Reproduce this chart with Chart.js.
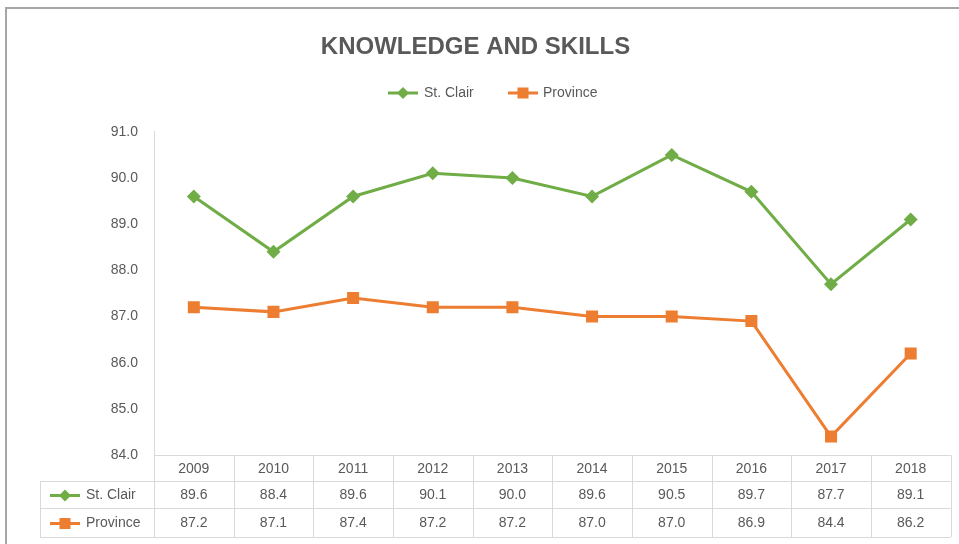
<!DOCTYPE html>
<html>
<head>
<meta charset="utf-8">
<script src="https://cdn.jsdelivr.net/npm/chart.js@4/dist/chart.umd.min.js"></script>
<style>
  html, body { margin: 0; padding: 0; background: #fff; }
  #frame { position: absolute; left: 5px; top: 7px; width: 1000px; height: 600px; border: 2px solid #a6a6a6; }
  #wrap { position: absolute; left: 0; top: 0; width: 959px; height: 544px; }
</style>
</head>
<body>
<div id="frame"></div>
<div id="wrap"><canvas id="chart" width="959" height="544"></canvas></div>
<script>
const years = ['2009', '2010', '2011', '2012', '2013', '2014', '2015', '2016', '2017', '2018'];
const stClair = [89.6, 88.4, 89.6, 90.1, 90.0, 89.6, 90.5, 89.7, 87.7, 89.1];
const province = [87.2, 87.1, 87.4, 87.2, 87.2, 87.0, 87.0, 86.9, 84.4, 86.2];
const yMin = 84, yMax = 91;

const GREEN = '#70ad47';
const ORANGE = '#ed7d31';
const TEXT = '#595959';
const LINE = '#d9d9d9';
const FONT = '"Liberation Sans", Arial, sans-serif';

function marker(ctx, style, x, y, color) {
    ctx.fillStyle = color;
    ctx.beginPath();
    if (style === 'diamond') {
        ctx.moveTo(x, y - 6); ctx.lineTo(x + 6, y); ctx.lineTo(x, y + 6); ctx.lineTo(x - 6, y);
        ctx.closePath();
    } else {
        ctx.rect(x - 5.5, y - 5.5, 11, 11);
    }
    ctx.fill();
}

function key(ctx, style, x, y, color) {
    ctx.strokeStyle = color;
    ctx.lineWidth = 3;
    ctx.beginPath();
    ctx.moveTo(x, y); ctx.lineTo(x + 30, y);
    ctx.stroke();
    marker(ctx, style, x + 15, y, color);
}

// legend on top + data table under the plot
const tablePlugin = {
    id: 'dataTable',
    afterDraw(chart) {
        const ctx = chart.ctx;
        const xs = chart.scales.x;
        const area = chart.chartArea;
        const series = [
            { name: 'St. Clair', values: stClair, color: GREEN, style: 'diamond' },
            { name: 'Province', values: province, color: ORANGE, style: 'square' }
        ];
        ctx.save();

        // legend
        ctx.font = '14px ' + FONT;
        ctx.textBaseline = 'middle';
        ctx.textAlign = 'left';
        key(ctx, 'diamond', 388, 93, GREEN);
        ctx.fillStyle = TEXT;
        ctx.fillText('St. Clair', 424, 93);
        key(ctx, 'square', 508, 93, ORANGE);
        ctx.fillStyle = TEXT;
        ctx.fillText('Province', 543, 93);

        // table grid
        const half = xs.width / years.length / 2;
        const top = area.bottom;
        const rows = [top, top + 26, top + 53, top + 82];
        const left = 40;
        ctx.strokeStyle = LINE;
        ctx.lineWidth = 1;
        ctx.beginPath();
        ctx.moveTo(area.left, rows[0] + 0.5); ctx.lineTo(area.right, rows[0] + 0.5);
        for (let r = 1; r < rows.length; r++) {
            ctx.moveTo(left, rows[r] + 0.5); ctx.lineTo(area.right, rows[r] + 0.5);
        }
        ctx.moveTo(left + 0.5, rows[1]); ctx.lineTo(left + 0.5, rows[3]);
        for (let i = 0; i <= years.length; i++) {
            const x = Math.round(xs.getPixelForValue(0) - half + i * half * 2) + 0.5;
            ctx.moveTo(x, rows[0]); ctx.lineTo(x, rows[3]);
        }
        ctx.stroke();

        // table text
        ctx.font = '14px ' + FONT;
        ctx.fillStyle = TEXT;
        ctx.textAlign = 'center';
        years.forEach((y, i) => {
            ctx.fillText(y, xs.getPixelForValue(i), (rows[0] + rows[1]) / 2 + 1);
        });
        series.forEach((s, r) => {
            const cy = (rows[r + 1] + rows[r + 2]) / 2 + 1;
            key(ctx, s.style, 50, cy, s.color);
            ctx.fillStyle = TEXT;
            ctx.textAlign = 'left';
            ctx.fillText(s.name, 86, cy);
            ctx.textAlign = 'center';
            s.values.forEach((v, i) => {
                ctx.fillText(v.toFixed(1), xs.getPixelForValue(i), cy);
            });
        });
        ctx.restore();
    }
};

new Chart(document.getElementById('chart'), {
    type: 'line',
    data: {
        labels: years,
        datasets: [
            {
                label: 'St. Clair',
                data: stClair,
                borderColor: GREEN,
                backgroundColor: GREEN,
                borderWidth: 3,
                pointStyle: 'rectRot',
                pointRadius: 7,
                pointBorderWidth: 0,
                tension: 0
            },
            {
                label: 'Province',
                data: province,
                borderColor: ORANGE,
                backgroundColor: ORANGE,
                borderWidth: 3,
                pointStyle: 'rect',
                pointRadius: 8.5,
                pointBorderWidth: 0,
                tension: 0
            }
        ]
    },
    options: {
        responsive: false,
        animation: false,
        layout: { padding: { left: 0, right: 8, top: 0, bottom: 89 } },
        plugins: {
            legend: { display: false },
            tooltip: { enabled: false },
            title: {
                display: true,
                text: 'KNOWLEDGE AND SKILLS',
                color: TEXT,
                font: { family: FONT, size: 24, weight: 'bold' },
                padding: { top: 33, bottom: 70 }
            }
        },
        scales: {
            x: {
                display: false,
                offset: true
            },
            y: {
                min: yMin,
                max: yMax,
                afterFit(scale) { scale.width = 154; },
                grid: { display: false, drawTicks: false },
                border: { display: true, color: LINE, width: 1 },
                ticks: {
                    stepSize: 1,
                    padding: 16,
                    color: TEXT,
                    font: { family: FONT, size: 14 },
                    callback: v => v.toFixed(1)
                }
            }
        }
    },
    plugins: [tablePlugin]
});
</script>
</body>
</html>
